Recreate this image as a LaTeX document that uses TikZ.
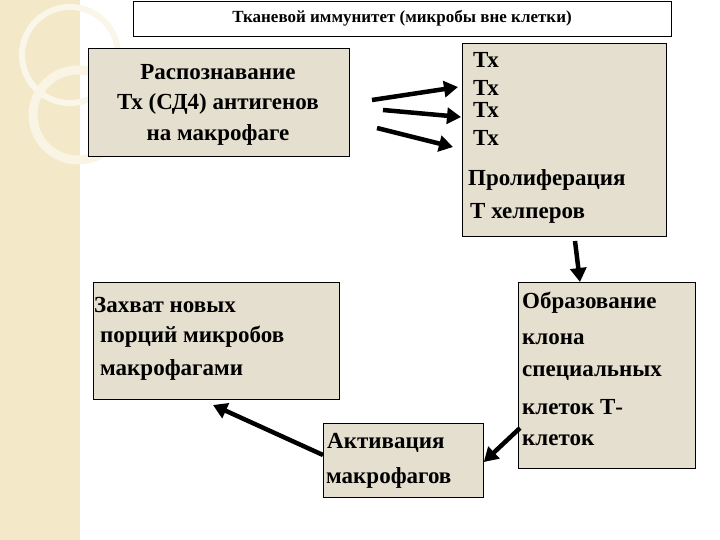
\documentclass[tikz,border=0pt]{standalone}
\usepackage{fontspec}
\setmainfont{Liberation Serif}
\newfontfamily\tfnt{Liberation Serif}
\usetikzlibrary{arrows.meta}
\begin{document}
\begin{tikzpicture}[x=1pt,y=-1pt,
  box/.style={draw=black,line width=0.8pt,fill=boxc},
  txt/.style={font=\tfnt\bfseries\fontsize{23}{23}\selectfont,inner sep=0pt},
  arr/.style={line width=4.5pt,-{Triangle[length=14pt,width=16pt]}}]
\definecolor{boxc}{HTML}{E5DFCF}
\definecolor{stripc}{HTML}{F3E8C8}
\useasboundingbox (0,0) rectangle (720,540);
\fill[white] (0,0) rectangle (720,540);
\fill[stripc] (0,0) rectangle (80,540);
\draw[white!60!stripc,line width=6pt] (70,55) circle (48);
\draw[white!50!stripc,line width=9pt] (78,115) circle (45);
% boxes
\node[draw=black,line width=0.8pt,fill=white,minimum width=538pt,minimum height=35pt,anchor=north west,inner sep=0pt] (title) at (133,1) {};
\node[font=\tfnt\bfseries\fontsize{17}{17}\selectfont] (tt) at (402,18) {Тканевой иммунитет (микробы вне клетки)};
\node[box,minimum width=261pt,minimum height=108pt,anchor=north west,inner sep=0pt] (b1) at (88,48) {};
\node[box,minimum width=204pt,minimum height=193pt,anchor=north west,inner sep=0pt] (b2) at (462,43) {};
\node[box,minimum width=177pt,minimum height=186pt,anchor=north west,inner sep=0pt] (b3) at (518,282) {};
\node[box,minimum width=160pt,minimum height=74pt,anchor=north west,inner sep=0pt] (b4) at (323,423) {};
\node[box,minimum width=246pt,minimum height=117pt,anchor=north west,inner sep=0pt] (b5) at (93,282) {};
% texts
\node[txt] (t1a) at (218,72) {Распознавание};
\node[txt] (t1b) at (218,104) {Тх (СД4) антигенов};
\node[txt] (t1c) at (218,135) {на макрофаге};
\node[txt,anchor=west] (t2a) at (473,60) {Тх};
\node[txt,anchor=west] (t2b) at (473,88) {Тх};
\node[txt,anchor=west] (t2c) at (473,110) {Тх};
\node[txt,anchor=west] (t2d) at (473,138) {Тх};
\node[txt,anchor=west] (t2e) at (468,180) {Пролиферация};
\node[txt,anchor=west] (t2f) at (470,213) {Т хелперов};
\node[txt,anchor=west] (t5a) at (94,305) {Захват новых};
\node[txt,anchor=west] (t5b) at (100,337) {порций микробов};
\node[txt,anchor=west] (t5c) at (100,370) {макрофагами};
\node[txt,anchor=west] (t4a) at (327,443) {Активация};
\node[txt,anchor=west] (t4b) at (326,478) {макрофагов};
\node[txt,anchor=west] (t3a) at (522,303) {Образование};
\node[txt,anchor=west] (t3b) at (522,339) {клона};
\node[txt,anchor=west] (t3c) at (522,373) {специальных};
\node[txt,anchor=west] (t3d) at (522,407) {клеток Т-};
\node[txt,anchor=west] (t3e) at (522,440) {клеток};
% arrows
\coordinate (a1s) at (372,100); \coordinate (a1e) at (458,87);
\coordinate (a2s) at (383,110); \coordinate (a2e) at (461,117);
\coordinate (a3s) at (377,128); \coordinate (a3e) at (453,147);
\coordinate (d1) at (575,241); \coordinate (d2) at (520,428); \coordinate (d3) at (213,405);
\draw[arr] (a1s) -- (a1e);
\draw[arr] (a2s) -- (a2e);
\draw[arr] (a3s) -- (a3e);
\draw[arr] (d1) -- (b3.north -| 580,0);
\draw[arr] (d2) -- (b4.east |- 0,462);
\draw[arr] (b4.west |- 0,455) -- (d3);
\end{tikzpicture}
\end{document}
